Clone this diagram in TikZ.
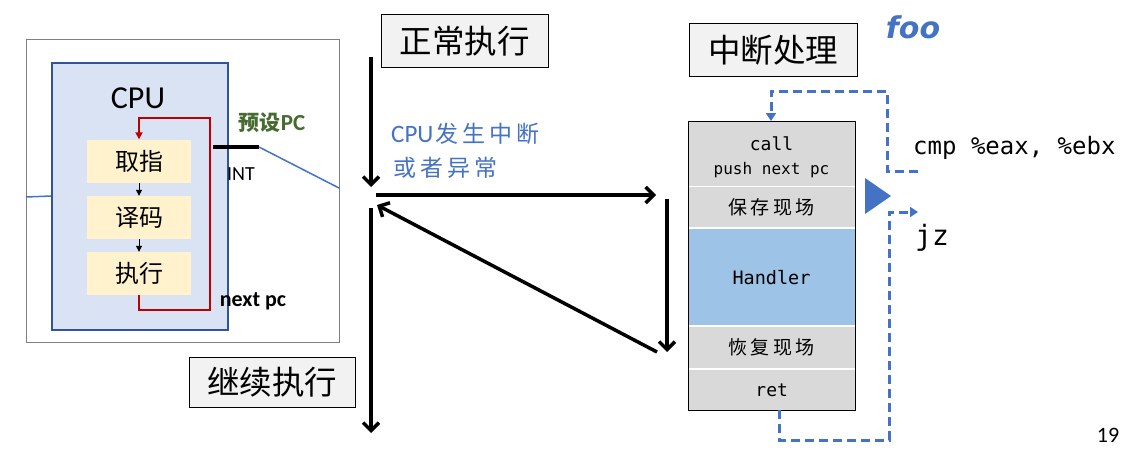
\documentclass[tikz,border=0pt]{standalone}
\usepackage{fontspec}
\setmainfont{Carlito}
\newfontfamily\cjk{Noto Sans CJK SC}
\newfontfamily\cjkspaced{Noto Sans CJK SC}[LetterSpace=18]
\newfontfamily\monof{DejaVu Sans Mono}
\newfontfamily\foofont{DejaVu Sans}[BoldItalicFont=DejaVu Sans Bold Oblique]
\usetikzlibrary{arrows.meta}
\definecolor{cpublue}{HTML}{DAE3F3}
\definecolor{cpuedge}{HTML}{2F5597}
\definecolor{stepyellow}{HTML}{FFF2CC}
\definecolor{loopred}{HTML}{C00000}
\definecolor{presetgreen}{HTML}{466B2E}
\definecolor{linkblue}{HTML}{4472C4}
\definecolor{labelgray}{HTML}{F2F2F2}
\definecolor{cellgray}{HTML}{D9D9D9}
\definecolor{handlerblue}{HTML}{9DC3E6}
\tikzset{
  stepbox/.style={fill=stepyellow, minimum width=104pt, minimum height=43pt, inner sep=0pt, font=\cjk\fontsize{24}{24}\selectfont},
  titlebox/.style={draw=black, line width=1pt, fill=labelgray, minimum width=167pt, minimum height=52pt, inner sep=0pt, font=\cjk\fontsize{32.5}{32.5}\selectfont},
  cellbox/.style={fill=cellgray, minimum width=167pt, inner sep=0pt, anchor=north west},
  flowarrow/.style={line width=3.5pt, -{Straight Barb[length=8pt,width=16pt]}},
  smallarrow/.style={line width=1pt, -{Triangle[length=6pt,width=6pt]}},
  dashblue/.style={linkblue, line width=3pt, dash pattern=on 9pt off 5pt},
}
\begin{document}
\begin{tikzpicture}[x=1pt,y=-1pt]
\useasboundingbox (0,0) rectangle (1134,460);
\fill[white] (0,0) rectangle (1134,460);

% ---------- left CPU panel ----------
\node[draw=gray, line width=1pt, minimum width=313pt, minimum height=303pt, anchor=north west, inner sep=0pt] (outer) at (26,39) {};
\node[draw=cpuedge, fill=cpublue, line width=1.5pt, minimum width=176pt, minimum height=267pt, anchor=north west, inner sep=0pt] (cpu) at (51,62) {};
\node[font=\fontsize{32}{32}\selectfont] (cputext) at (138,98) {CPU};
\node[stepbox] (qz) at (139,161) {取指};
\node[stepbox] (ym) at (139,217.5) {译码};
\node[stepbox] (zx) at (139,273.5) {执行};
\draw[smallarrow] (qz.south) -- (ym.north);
\draw[smallarrow] (ym.south) -- (zx.north);
\coordinate (loopbl) at (139,310);
\coordinate (loopbr) at (210,310);
\coordinate (looptr) at (210,118);
\coordinate (looptl) at (139,118);
\draw[loopred, line width=1.8pt, -{Triangle[length=7pt,width=7pt]}] (zx.south) -- (loopbl) -- (loopbr) -- (looptr) -- (looptl) -- (qz.north);
\coordinate (intL) at (213,147);
\coordinate (intR) at (259,147);
\coordinate (outR) at (339,188);
\coordinate (outL) at (26,197);
\draw[line width=4pt] (intL) -- (intR);
\draw[linkblue, line width=1.5pt] (intR) -- (outR);
\draw[linkblue, line width=1.5pt] (outL) -- (cpu.west |- 0,196);
\node[presetgreen, inner sep=0pt] (preset) at (272,123) {{\cjk\bfseries\fontsize{21}{21}\selectfont 预设}{\bfseries\fontsize{23}{23}\selectfont PC}};
\node[font=\fontsize{20}{20}\selectfont] (int) at (241,174) {INT};
\node[font=\bfseries\fontsize{22}{22}\selectfont] (nextpc) at (253,301) {next pc};

% ---------- middle ----------
\node[titlebox] (normal) at (464.5,41) {正常执行};
\node[titlebox, minimum width=166pt, minimum height=50pt] (cont) at (272,382) {继续执行};
\coordinate (a1) at (371,57);
\coordinate (a2) at (371,187);
\coordinate (h1) at (376,195);
\coordinate (h2) at (656,195);
\coordinate (v1) at (667,199);
\coordinate (v2) at (667,352);
\coordinate (d1) at (657,352);
\coordinate (d2) at (377,205);
\coordinate (b1) at (371,208);
\coordinate (b2) at (371,433);
\draw[flowarrow] (a1) -- (a2);
\draw[flowarrow] (h1) -- (h2);
\draw[flowarrow] (v1) -- (v2);
\draw[flowarrow] (d1) -- (d2);
\draw[flowarrow] (b1) -- (b2);
\node[linkblue, anchor=west, inner sep=0pt] (evt1) at (391,134) {{\fontsize{25}{25}\selectfont CPU}\hspace{2pt}{\cjkspaced\fontsize{23}{23}\selectfont 发生中断}};
\node[linkblue, anchor=west, inner sep=0pt, font=\cjkspaced\fontsize{23}{23}\selectfont] (evt2) at (393,168) {或者异常};

% ---------- right ----------
\node[titlebox, minimum width=168pt] (handle) at (773,50) {中断处理};
\node[linkblue, font=\foofont\bfseries\itshape\fontsize{30}{30}\selectfont] (foo) at (913,27) {foo};
\node[cellbox, minimum height=65pt] (c1) at (688,121) {};
\node[cellbox, minimum height=40pt] (c2) at (688,187) {};
\node[cellbox, fill=handlerblue, minimum height=96pt] (c3) at (688,229) {};
\node[cellbox, minimum height=41pt] (c4) at (688,327) {};
\node[cellbox, minimum height=40pt] (c5) at (688,370) {};
\draw[line width=1pt] (c1.north west) rectangle (c5.south east);
\node[font=\monof\fontsize{18}{18}\selectfont] (callt) at (771.5,144) {call};
\node[font=\monof\fontsize{16}{16}\selectfont] (pusht) at (771.5,170) {push next pc};
\node[font=\cjkspaced\fontsize{19}{19}\selectfont] (savet) at (c2) {保存现场};
\node[font=\monof\fontsize{18.5}{18.5}\selectfont] (handlert) at (771.5,278) {Handler};
\node[font=\cjkspaced\fontsize{19}{19}\selectfont] (restoret) at (c4) {恢复现场};
\node[font=\monof\fontsize{18}{18}\selectfont] (rett) at (c5) {ret};

\coordinate (p1) at (918,171);
\coordinate (p2) at (887,171);
\coordinate (p3) at (887,91);
\coordinate (p4) at (771,91);
\draw[dashblue, -{Triangle[length=8pt,width=10pt]}] (p1) -- (p2) -- (p3) -- (p4) -- (c1.north -| p4);
\fill[linkblue] (865,178) -- (865,214) -- (891,196) -- cycle;
\coordinate (q1) at (779,410);
\coordinate (q2) at (779,440);
\coordinate (q3) at (889,440);
\coordinate (q4) at (889,212);
\coordinate (q5) at (918,212);
\draw[dashblue, -{Triangle[length=8pt,width=10pt]}] (q1) -- (q2) -- (q3) -- (q4) -- (q5);
\node[anchor=west, inner sep=0pt, font=\monof\fontsize{24}{24}\selectfont] (cmpt) at (913,148) {cmp \%eax, \%ebx};
\node[anchor=west, inner sep=0pt, font=\monof\fontsize{28}{28}\selectfont] (jzt) at (915,238) {jz};
\node[font=\fontsize{22}{22}\selectfont] (pagenum) at (1108,435) {19};
\end{tikzpicture}
\end{document}
